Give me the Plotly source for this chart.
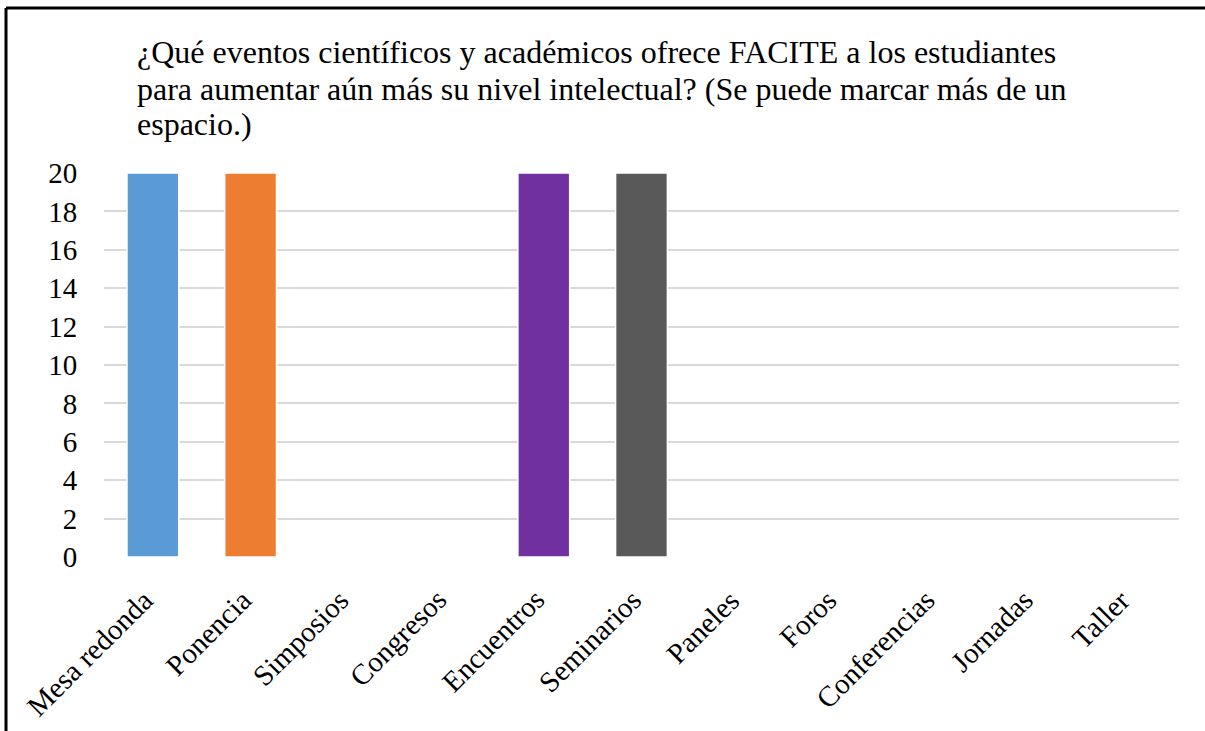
import plotly.graph_objects as go

categories = ["Mesa redonda", "Ponencia", "Simposios", "Congresos", "Encuentros",
              "Seminarios", "Paneles", "Foros", "Conferencias", "Jornadas", "Taller"]
values = [20, 20, 0, 0, 20, 20, 0, 0, 0, 0, 0]
colors = ["#5B9BD5", "#ED7D31", "#A5A5A5", "#FFC000", "#7030A0",
          "#595959", "#4472C4", "#70AD47", "#264478", "#9E480E", "#636363"]
y_ticks = [0, 2, 4, 6, 8, 10, 12, 14, 16, 18, 20]
title_lines = ["¿Qué eventos científicos y académicos ofrece FACITE a los estudiantes",
               "para aumentar aún más su nivel intelectual? (Se puede marcar más de un",
               "espacio.)"]

W, H = 1205, 731
ML, MR, MT, MB = 104, 26, 172, 174
FONT = "Liberation Serif, Times New Roman, serif"
Y_TOP = 20.05

fig = go.Figure(go.Bar(
    x=categories, y=values,
    marker=dict(color=colors, line=dict(color="white", width=1.5)),
    showlegend=False,
))

pw = W - ML - MR
ph = H - MT - MB
fig.add_shape(type="line", xref="paper", yref="paper",
              x0=(6 - ML) / pw, x1=(W + 10 - ML) / pw,
              y0=1 + (MT - 8) / ph, y1=1 + (MT - 8) / ph,
              line=dict(color="black", width=3))
fig.add_shape(type="line", xref="paper", yref="paper",
              x0=(6 - ML) / pw, x1=(6 - ML) / pw,
              y0=1 + (MT - 8) / ph, y1=-(MB + 10) / ph,
              line=dict(color="black", width=3))

# title lines (manual line spacing)
title_centers = [52, 89, 124]
for line, cy in zip(title_lines, title_centers):
    fig.add_annotation(text=line, xref="paper", yref="paper",
                       x=(135 - ML) / pw, xanchor="left",
                       y=1 + (MT - cy) / ph, yanchor="middle",
                       showarrow=False, font=dict(family=FONT, size=32, color="black"))

# rotated category labels
for c in categories:
    fig.add_annotation(text=c, x=c, y=0, xref="x", yref="y",
                       xanchor="right", yanchor="top", textangle=-45,
                       yshift=-24, xshift=9, showarrow=False,
                       font=dict(family=FONT, size=29, color="black"))

fig.update_layout(
    width=W, height=H,
    margin=dict(l=ML, r=MR, t=MT, b=MB),
    paper_bgcolor="white", plot_bgcolor="white",
    bargap=0.47,
    font=dict(family=FONT, size=29, color="black"),
    xaxis=dict(range=[-0.5, len(categories) - 0.5], showticklabels=False,
               showgrid=False, showline=False, zeroline=False),
    yaxis=dict(range=[0, Y_TOP], tickvals=y_ticks, showgrid=True, gridcolor="#D9D9D9",
               gridwidth=1.5, zeroline=False, showline=False,
               ticks="outside", ticklen=20, tickcolor="rgba(0,0,0,0)",
               tickfont=dict(family=FONT, size=29)),
)

fig.write_html("out.html")
